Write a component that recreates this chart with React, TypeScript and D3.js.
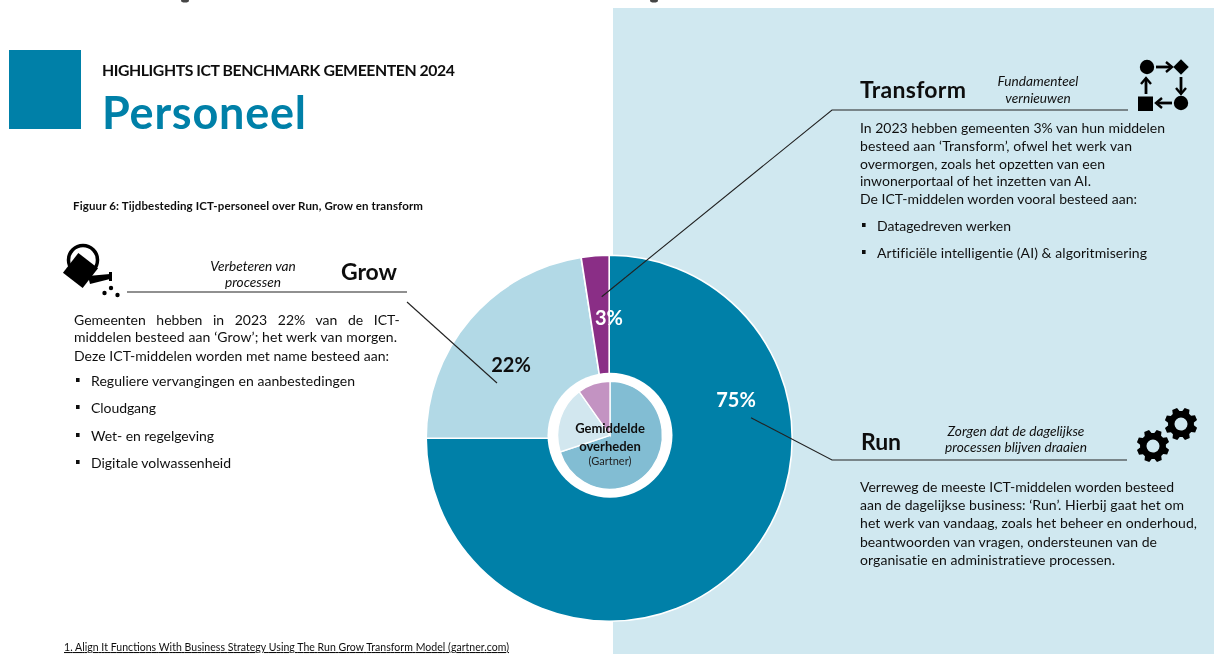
import React from "react";
import * as d3 from "d3";

// ---- data ----
const segments = ["Run", "Grow", "Transform"];
// slice sizes as drawn in the picture (the purple wedge is drawn a little narrower than its 3% label)
const municipalValues = [75, 22.55, 2.45];
const gartnerValues = [70, 20, 10];
const valueLabels = ["75%", "22%", "3%"];

const pageSuper = "HIGHLIGHTS ICT BENCHMARK GEMEENTEN 2024";
const pageTitle = "Personeel";
const figureTitle = "Figuur 6: Tijdbesteding ICT-personeel over Run, Grow en transform";
const footnote = "1. Align It Functions With Business Strategy Using The Run Grow Transform Model (gartner.com)";
const centerLabels = ["Gemiddelde", "overheden", "(Gartner)"];

const transformTag = ["Fundamenteel", "vernieuwen"];
const transformBody = [
  "In 2023 hebben gemeenten 3% van hun middelen",
  "besteed aan ‘Transform’, ofwel het werk van",
  "overmorgen, zoals het opzetten van een",
  "inwonerportaal of het inzetten van AI.",
  "De ICT-middelen worden vooral besteed aan:",
];
const transformBullets = ["Datagedreven werken", "Artificiële intelligentie (AI) & algoritmisering"];

const growTag = ["Verbeteren van", "processen"];
const growBody = [
  "Gemeenten hebben in 2023 22% van de ICT-",
  "middelen besteed aan ‘Grow’; het werk van morgen.",
  "Deze ICT-middelen worden met name besteed aan:",
];
const growBullets = ["Reguliere vervangingen en aanbestedingen", "Cloudgang", "Wet- en regelgeving", "Digitale volwassenheid"];

const runTag = ["Zorgen dat de dagelijkse", "processen blijven draaien"];
const runBody = [
  "Verreweg de meeste ICT-middelen worden besteed",
  "aan de dagelijkse business: ‘Run’. Hierbij gaat het om",
  "het werk van vandaag, zoals het beheer en onderhoud,",
  "beantwoorden van vragen, ondersteunen van de",
  "organisatie en administratieve processen.",
];

// ---- styling / layout ----
const W = 1214, H = 654;
const FONT = "Lato, Carlito, sans-serif";
const INK = "#111";
const TEAL = "#0080a8";
const PANEL = "#d0e8f0";
const outerColor = d3.scaleOrdinal<string, string>().domain(segments).range([TEAL, "#b2d9e6", "#8a2f86"]);
const innerColor = d3.scaleOrdinal<string, string>().domain(segments).range(["#82bdd3", "#d2e7ef", "#c393c2"]);

const pieGen = d3.pie<number>().sort(null);
const outerArc = d3.arc<d3.PieArcDatum<number>>().innerRadius(0).outerRadius(183);
const innerArc = d3.arc<d3.PieArcDatum<number>>().innerRadius(0).outerRadius(54);

function gearPath(teeth: number, R: number, r: number, hole: number) {
  const step = (Math.PI * 2) / teeth;
  const pts: [number, number][] = [];
  d3.range(teeth).forEach((i) => {
    const a = i * step;
    ([[-0.36, r], [-0.2, R], [0.2, R], [0.36, r]] as [number, number][]).forEach(([f, rad]) => {
      const t = a + f * step;
      pts.push([rad * Math.cos(t), rad * Math.sin(t)]);
    });
  });
  const ring = (d3.line()(pts) || "") + "Z";
  const c = d3.path();
  c.arc(0, 0, hole, 0, Math.PI * 2);
  return ring + c.toString() + "Z";
}

type LineProps = { t: string; x: number; y: number; w?: number; size?: number; weight?: number; anchor?: string; italic?: boolean; fill?: string; wordGap?: number };
const Line = ({ t, x, y, w, size = 14, weight = 400, anchor = "start", italic = false, fill = INK, wordGap }: LineProps) => (
  <text x={x} y={y} fontSize={size} fontWeight={weight} textAnchor={anchor} fontStyle={italic ? "italic" : "normal"} fill={fill} fontFamily={FONT} textLength={w} lengthAdjust="spacing" style={{ fontVariantLigatures: "none", wordSpacing: wordGap }}>
    {t}
  </text>
);

const Leader = ({ pts }: { pts: [number, number][] }) => <path d={d3.line()(pts) || ""} fill="none" stroke="#222" strokeWidth={1.1} />;

const Arrow = ({ x1, y1, x2, y2 }: { x1: number; y1: number; x2: number; y2: number }) => {
  const ang = (Math.atan2(y2 - y1, x2 - x1) * 180) / Math.PI;
  const len = Math.hypot(x2 - x1, y2 - y1);
  return (
    <g transform={`translate(${x1},${y1}) rotate(${ang})`}>
      <path d={`M0,0H${len - 2}`} stroke="#000" strokeWidth={2.8} />
      <path d={`M${len - 6},-5L${len},0L${len - 6},5`} fill="none" stroke="#000" strokeWidth={2.4} />
    </g>
  );
};

const Bullet = ({ x, y }: { x: number; y: number }) => <rect x={x} y={y - 2} width={3.6} height={4} fill="#111" />;

export default function App() {
  const cx = 609.2, cy = 438.3;
  const ix = 610, iy = 435.3;
  const outer = pieGen(municipalValues);
  const inner = pieGen(gartnerValues);

  const transformW = [305, 272, 245, 231, 277];
  const transformBW = [134, 270];
  const transformY = [133, 151, 169, 186, 204];
  const transformBY = [231, 258];
  const growW = [undefined, 323, 315];
  const growY = [325, 342, 361];
  const growBW = [264, 65, 123, 140];
  const growBY = [386, 413, 441, 468];
  const runW = [314, 324, 337, 297, 255];
  const runY = [492, 510, 528, 547, 565];

  return (
    <svg width={W} height={H} viewBox={`0 0 ${W} ${H}`} style={{ position: "fixed", left: 0, top: 0, background: "#fff" }}>
      <defs>
        <filter id="soft" filterUnits="userSpaceOnUse" x={0} y={0} width={W} height={H}>
          <feGaussianBlur stdDeviation={0.35} />
        </filter>
      </defs>
      <g filter="url(#soft)">
        <rect x={613} y={8} width={W - 613} height={H - 8} fill={PANEL} />

        {/* clipped remnants of a line of text along the top edge */}
        <ellipse cx={185} cy={0.5} rx={4} ry={2} fill="#444" />
        <ellipse cx={654} cy={0.5} rx={4} ry={2} fill="#444" />

        {/* header */}
        <rect x={9} y={50} width={72} height={79} fill={TEAL} />
        <Line t={pageSuper} x={102} y={76} w={353} size={15.8} weight={700} />
        <Line t={pageTitle} x={102} y={129} w={204} size={45} weight={700} fill={TEAL} />
        <Line t={figureTitle} x={73} y={210} w={350} size={11.5} weight={700} />

        {/* main pie */}
        {outer.map((d, i) => (
          <path key={segments[i]} transform={`translate(${cx},${cy})`} d={outerArc(d) || ""} fill={outerColor(segments[i])} stroke="#fff" strokeWidth={1.6} />
        ))}
        <circle cx={ix} cy={iy} r={62.5} fill="#fff" />
        {inner.map((d, i) => (
          <path key={segments[i]} transform={`translate(${ix},${iy}) scale(0.97,1)`} d={innerArc(d) || ""} fill={innerColor(segments[i])} stroke="#fff" strokeWidth={1.4} />
        ))}

        <Line t={centerLabels[0]} x={610} y={433} size={13} weight={700} anchor="middle" />
        <Line t={centerLabels[1]} x={610} y={451} size={13} weight={700} anchor="middle" />
        <Line t={centerLabels[2]} x={610} y={464.5} size={11} anchor="middle" fill="#222" />

        <Line t={valueLabels[0]} x={736} y={407} size={20} weight={700} anchor="middle" fill="#fff" />
        <Line t={valueLabels[1]} x={511} y={372} size={20} weight={700} anchor="middle" />
        <Line t={valueLabels[2]} x={609} y={325} size={20} weight={700} anchor="middle" fill="#fff" />

        {/* Transform */}
        <Line t={segments[2]} x={860} y={98} w={106} size={23} weight={700} />
        <Line t={transformTag[0]} x={1038} y={86} size={13.7} italic anchor="middle" />
        <Line t={transformTag[1]} x={1038} y={103} size={13.7} italic anchor="middle" />
        <Leader pts={[[601.7, 296.7], [832, 110], [1128, 110]]} />
        {transformBody.map((t, i) => <Line key={t} t={t} x={860} y={transformY[i]} w={transformW[i]} />)}
        {transformBullets.map((t, i) => (
          <g key={t}>
            <Bullet x={862} y={transformBY[i] - 6} />
            <Line t={t} x={877} y={transformBY[i]} w={transformBW[i]} />
          </g>
        ))}
        {/* process icon */}
        <circle cx={1147} cy={67} r={7.2} fill="#000" />
        <rect x={1175.5} y={61.5} width={11} height={11} transform="rotate(45 1181 67)" fill="#000" />
        <circle cx={1181} cy={103} r={7.2} fill="#000" />
        <rect x={1138} y={96.5} width={15} height={14.5} fill="#000" />
        <Arrow x1={1156} y1={67} x2={1172} y2={67} />
        <Arrow x1={1181} y1={77} x2={1181} y2={94} />
        <Arrow x1={1172} y1={103} x2={1156} y2={103} />
        <Arrow x1={1146} y1={94} x2={1146} y2={78} />

        {/* Grow */}
        <Line t={segments[1]} x={341} y={280} w={56} size={23} weight={700} />
        <Line t={growTag[0]} x={253} y={270.5} size={13.7} italic anchor="middle" />
        <Line t={growTag[1]} x={253} y={287} size={13.7} italic anchor="middle" />
        <Leader pts={[[127, 292], [407, 292]]} />
        <Leader pts={[[407, 302], [497, 383]]} />
        {growBody.map((t, i) => <Line key={t} t={t} x={74} y={growY[i]} w={growW[i]} wordGap={i === 0 ? 7 : undefined} />)}
        {growBullets.map((t, i) => (
          <g key={t}>
            <Bullet x={76} y={growBY[i] - 6} />
            <Line t={t} x={91} y={growBY[i]} w={growBW[i]} />
          </g>
        ))}
        {/* watering can icon */}
        <rect x={68} y={258} width={25} height={25} transform="rotate(38 80.5 270.5)" fill="#000" />
        <circle cx={83} cy={260} r={14.5} fill="none" stroke="#000" strokeWidth={3.5} />
        <path d="M88,276L110,274V279L90,284Z" fill="#000" />
        <rect x={109} y={272} width={3} height={9} fill="#000" />
        <circle cx={104.5} cy={293} r={2.2} fill="#000" />
        <circle cx={111} cy={288} r={2.2} fill="#000" />
        <circle cx={117.5} cy={295} r={2.2} fill="#000" />

        {/* Run */}
        <Line t={segments[0]} x={861} y={450} w={40} size={23} weight={700} />
        <Line t={runTag[0]} x={1016} y={436} size={13.7} italic anchor="middle" />
        <Line t={runTag[1]} x={1016} y={452} size={13.7} italic anchor="middle" />
        <Leader pts={[[751, 417.7], [832, 460], [1127, 460]]} />
        {runBody.map((t, i) => <Line key={t} t={t} x={860} y={runY[i]} w={runW[i]} />)}
        <g fill="#000" fillRule="evenodd">
          <path transform="translate(1181,424) rotate(22)" d={gearPath(8, 16.5, 13, 6.5)} />
          <path transform="translate(1153,446) rotate(22)" d={gearPath(8, 16.5, 13, 6.5)} />
        </g>

        {/* footnote */}
        <text x={64} y={651} fontSize={10.5} fontFamily={FONT} fill={INK} textDecoration="underline" textLength={445} lengthAdjust="spacing">{footnote}</text>
      </g>
    </svg>
  );
}
